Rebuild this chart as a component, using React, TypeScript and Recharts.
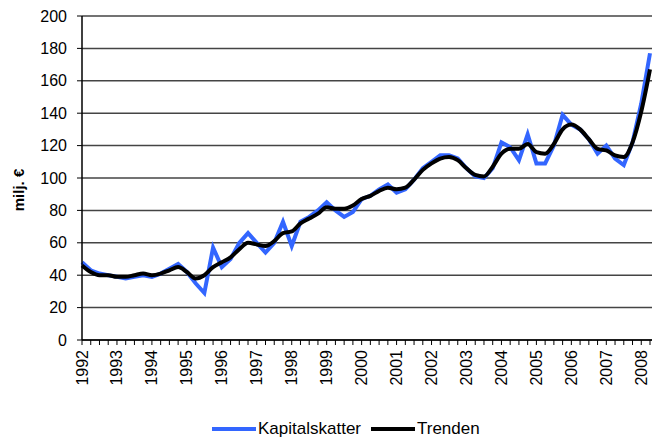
import { LineChart, Line, XAxis, YAxis, CartesianGrid, Legend } from "recharts";

const years = [1992, 1993, 1994, 1995, 1996, 1997, 1998, 1999, 2000, 2001, 2002, 2003, 2004, 2005, 2006, 2007, 2008];

// quarterly values, 1992 Q1 .. 2008 Q2
const kapitalskatter = [
  48, 43, 41, 40, 39, 38, 39, 40, 39, 41, 44, 47, 42, 35, 29, 57,
  45, 50, 60, 66, 60, 54, 60, 73, 58, 73, 76, 80, 85, 80, 76, 79,
  87, 89, 93, 96, 91, 93, 99, 106, 110, 114, 114, 112, 106, 101, 100, 106,
  122, 119, 111, 127, 109, 109, 120, 139, 133, 130, 124, 115, 120, 112, 108, 122,
  146, 177,
];

const trenden = [
  46, 42, 40, 40, 39, 39, 40, 41, 40, 41, 43, 45, 42, 38, 40, 45,
  48, 51, 56, 60, 59, 58, 61, 66, 67, 72, 75, 78, 82, 81, 81, 83,
  87, 89, 92, 94, 93, 94, 99, 105, 109, 112, 113, 111, 106, 102, 101, 107,
  115, 118, 118, 121, 116, 115, 121, 130, 133, 130, 124, 118, 117, 114, 113, 122,
  141, 167,
];

const yTicks = [0, 20, 40, 60, 80, 100, 120, 140, 160, 180, 200];

const quarters = years.flatMap((y) => [1, 2, 3, 4].map((q) => `${y} Q${q}`)).slice(0, kapitalskatter.length);

const data = quarters.map((q, i) => ({ q, k: kapitalskatter[i], t: trenden[i] }));

const FONT = "'Liberation Sans', Arial, sans-serif";

function YearTick({ x, y, payload }: any) {
  const v: string = payload.value;
  if (!v.endsWith("Q1")) return null;
  return (
    <text
      transform={`translate(${x},${y}) rotate(-90)`}
      textAnchor="end"
      dominantBaseline="central"
      fontSize={16}
      fontFamily={FONT}
      fill="#000"
    >
      {v.slice(0, 4)}
    </text>
  );
}

function LegendBox() {
  const item = (color: string, label: string) => (
    <div style={{ display: "flex", alignItems: "center" }}>
      <svg width={44} height={6}>
        <line x1={0} y1={3} x2={44} y2={3} stroke={color} strokeWidth={4} />
      </svg>
      <span style={{ marginLeft: 2, marginRight: 10 }}>{label}</span>
    </div>
  );
  return (
    <div
      style={{
        height: 24,
        display: "flex",
        alignItems: "center",
        paddingLeft: 212,
        fontFamily: FONT,
        fontSize: 17,
        color: "#000",
      }}
    >
      {item("#3366ff", "Kapitalskatter")}
      {item("#000", "Trenden")}
    </div>
  );
}

export default function App() {
  return (
    <div style={{ position: "absolute", left: 0, top: 0, width: 652, height: 441, background: "#fff" }}>
      <LineChart width={652} height={441} data={data} margin={{ top: 16, right: 0, bottom: 0, left: 0 }}>
        <CartesianGrid vertical={false} stroke="#444" strokeWidth={1.5} />
        <XAxis
          dataKey="q"
          interval={0}
          tick={<YearTick />}
          tickSize={5}
          tickMargin={5}
          tickLine={{ stroke: "#000" }}
          axisLine={{ stroke: "#000", strokeWidth: 1.5 }}
          padding={{ left: 0, right: 2 }}
          height={77}
        />
        <YAxis
          domain={[0, 200]}
          ticks={yTicks}
          width={82}
          tickSize={5}
          tickMargin={10}
          tick={{ fontSize: 16, fontFamily: FONT, fill: "#000" }}
          tickLine={{ stroke: "#000" }}
          axisLine={{ stroke: "#000", strokeWidth: 1.5 }}
          label={() => (
            <text
              x={18}
              y={190}
              transform="rotate(-90,18,190)"
              textAnchor="middle"
              dominantBaseline="central"
              fontSize={15}
              fontWeight="bold"
              fontFamily={FONT}
              fill="#000"
            >
              milj. €
            </text>
          )}
        />
        <Legend verticalAlign="bottom" content={<LegendBox />} />
        <Line
          type="linear"
          dataKey="k"
          name="Kapitalskatter"
          stroke="#3366ff"
          strokeWidth={4}
          dot={false}
          isAnimationActive={false}
        />
        <Line
          type="monotone"
          dataKey="t"
          name="Trenden"
          stroke="#000"
          strokeWidth={4}
          dot={false}
          isAnimationActive={false}
        />
      </LineChart>
    </div>
  );
}
